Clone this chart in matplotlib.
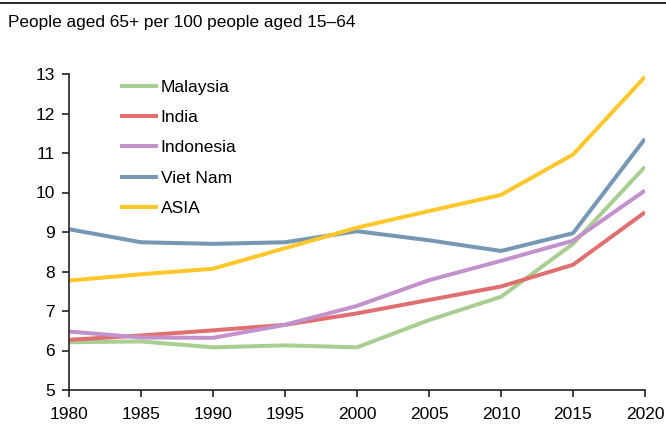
import matplotlib
matplotlib.use("Agg")
import matplotlib.pyplot as plt
from matplotlib.lines import Line2D

plt.rcParams['font.family'] = ['Liberation Sans', 'DejaVu Sans']

years = [1980, 1985, 1990, 1995, 2000, 2005, 2010, 2015, 2020]
malaysia = [6.21, 6.23, 6.08, 6.13, 6.08, 6.77, 7.36, 8.70, 10.65]
india = [6.27, 6.38, 6.51, 6.65, 6.94, 7.28, 7.62, 8.17, 9.50]
indonesia = [6.48, 6.33, 6.32, 6.65, 7.13, 7.78, 8.27, 8.78, 10.05]
vietnam = [9.07, 8.74, 8.70, 8.74, 9.02, 8.79, 8.52, 8.97, 11.36]
asia = [7.77, 7.93, 8.07, 8.59, 9.11, 9.53, 9.94, 10.96, 12.93]

series = [
    ("Malaysia", malaysia, "#A8CF91"),
    ("India", india, "#E07070"),
    ("Indonesia", indonesia, "#C391CB"),
    ("Viet Nam", vietnam, "#7698B5"),
    ("ASIA", asia, "#FFC72C"),
]

title = "People aged 65+ per 100 people aged 15\u201364"

fig = plt.figure(figsize=(6.66, 4.25), dpi=100)
ax = fig.add_axes([69/666, 1-390/425, (645-69)/666, (390-74)/425])

for name, vals, col in series:
    ax.plot(years, vals, color=col, lw=2.9, label=name, solid_capstyle='butt')

ax.set_xlim(1980, 2020)
ax.set_ylim(5, 13)
ax.set_xticks(years)
ax.set_yticks(range(5, 14))
for s in ['top', 'right']:
    ax.spines[s].set_visible(False)
for s in ['left', 'bottom']:
    ax.spines[s].set_color('#222222')
    ax.spines[s].set_linewidth(1.2)
ax.tick_params(axis='both', direction='out', length=5, width=1.2, color='#222222',
               labelsize=12.5, pad=7)
ax.tick_params(axis='y', pad=5)

leg = ax.legend(loc='upper left', bbox_to_anchor=((120-69)/576, (390-80)/316), frameon=False,
                fontsize=12.5, handlelength=2.2, handletextpad=0.15, labelspacing=0.865,
                borderpad=0, borderaxespad=0)

fig.text(8/666, 1-22/425, title, fontsize=12.4, va='center', ha='left')
fig.add_artist(Line2D([0, 1], [1-3/425, 1-3/425], color='black', lw=1.2, transform=fig.transFigure))

fig.savefig("out.png", dpi=100)
